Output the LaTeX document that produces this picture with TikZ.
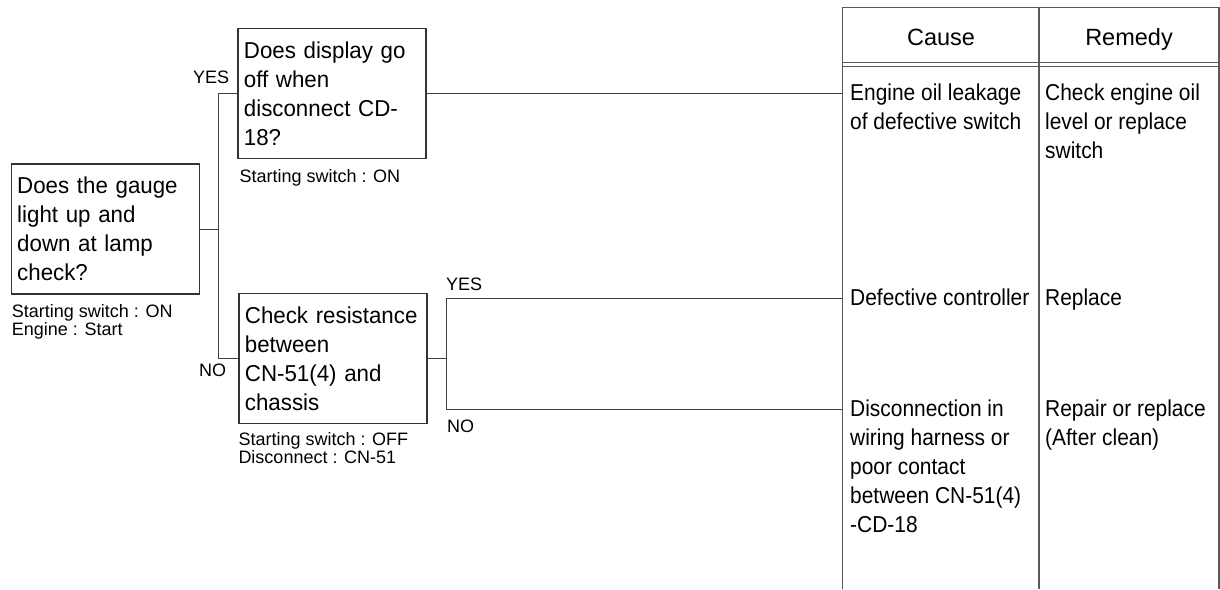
\documentclass[tikz,border=0pt]{standalone}
\usepackage{fontspec}
\setmainfont{Liberation Sans}
\newfontfamily\boxfont{Liberation Sans}[FakeStretch=0.97]
\newfontfamily\cellfont{Liberation Sans}[FakeStretch=0.91]
\usetikzlibrary{positioning}

\tikzset{
    question/.style={draw=black!80, line width=1.2pt, minimum width=188pt, minimum height=130pt, text width=176pt, inner xsep=6pt, inner ysep=0pt, align=left, font=\boxfont\fontsize{23}{29}\selectfont},
    note/.style={inner sep=0pt, align=left, font=\fontsize{18}{18}\selectfont},
    cell/.style={inner sep=0pt, anchor=north west, align=left, font=\cellfont\fontsize{23}{29}\selectfont},
    headcell/.style={inner sep=0pt, anchor=base, font=\fontsize{23.5}{29}\selectfont},
    wire/.style={draw=black!75, line width=1pt},
    tableline/.style={draw=black!65, line width=1.3pt}
}

\begin{document}
\begin{tikzpicture}[x=1pt, y=-1pt, every node/.append style={text=black}]
    \useasboundingbox (0,0) rectangle (1220,589);

    \node [question] (gauge) at (105.2,229) {Does the gauge\\light up and\\down at lamp\\check?};
    \node [question] (display) at (331.9,93.7) {Does display go\\off when\\disconnect CD-\\18?};
    \node [question] (resist) at (332.9,358.3) {Check resistance\\between\\CN-51(4) and\\chassis};

    \node [note, below right=10pt and 1pt of gauge.south west] (gaugenote) {Starting switch : ON\\Engine : Start};
    \node [note, below right=10pt and 2pt of display.south west] (displaynote) {Starting switch : ON};
    \node [note, below right=8pt and 0pt of resist.south west] (resistnote) {Starting switch : OFF\\Disconnect : CN-51};

    \coordinate (fork) at (218.3,229);
    \coordinate (yes) at (446,298.3);
    \coordinate (no) at (446,409.3);
    \coordinate (tab) at (842.7,7.5);

    \draw [wire] (gauge) -- (fork);
    \draw [wire] (display.west) -| (fork) |- (resist.west);
    \draw [wire] (display) -- (display -| tab);
    \draw [wire] (resist) -- (resist -| yes);
    \draw [wire] (yes -| tab) -- (yes) -- (no) -- (no -| tab);

    \node [note, above left=10pt and 8pt of display.west] (yesdisplay) {YES};
    \node [note, below left=5pt and 12pt of resist.west] (noresist) {NO};
    \node [note, above right=7.5pt and 0pt of yes] (yescontroller) {YES};
    \node [note, below right=10pt and 1pt of no] (nowiring) {NO};

    \draw [tableline] (842.7,589) -- (tab) -- (1219,7.5) -- (1219,589);
    \draw [tableline] (1039,7.5) -- (1039,589);
    \draw [tableline, line width=1pt] (842.7,62.5) -- (1219,62.5) (842.7,66.5) -- (1219,66.5);

    \node [headcell] (cause) at (941,45.5) {Cause};
    \node [headcell] (remedy) at (1129,45.5) {Remedy};

    \node [cell] (cause1) at (850,83.7) {Engine oil leakage\\of defective switch};
    \node [cell] (remedy1) at (1045,83.7) {Check engine oil\\level or replace\\switch};
    \node [cell] (cause2) at (850,288.3) {Defective controller};
    \node [cell] (remedy2) at (1045,288.3) {Replace};
    \node [cell] (cause3) at (850,399.3) {Disconnection in\\wiring harness or\\poor contact\\between CN-51(4)\\-CD-18};
    \node [cell] (remedy3) at (1045,399.3) {Repair or replace\\(After clean)};
\end{tikzpicture}
\end{document}
